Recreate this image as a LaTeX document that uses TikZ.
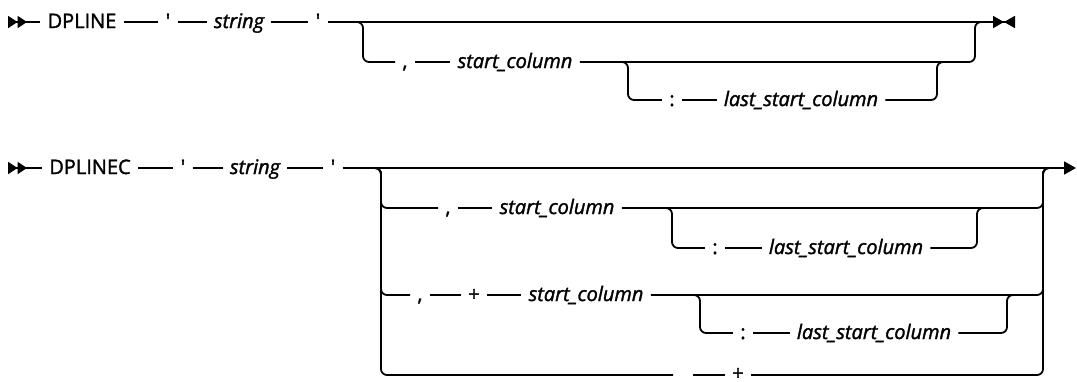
\documentclass[tikz,border=0pt]{standalone}
\usepackage{fontspec}
\setmainfont{Open Sans}[RawFeature={embolden=1.6}]
\usetikzlibrary{arrows.meta}

\begin{document}
\begin{tikzpicture}[
    x=0.5pt, y=-0.5pt,
    rail/.style={
        line width=0.9pt,
        rounded corners=3pt
    },
    kw/.style={
        font=\fontsize{10}{12}\selectfont,
        inner xsep=3.5pt,
        inner ysep=0pt,
        text height=7.5pt,
        text depth=1.5pt
    },
    var/.style={
        kw,
        font=\fontsize{10}{12}\selectfont\itshape
    },
    begin/.style={
        {Triangle[reversed,length=4.75pt,width=6pt,sep=0pt]Triangle[reversed,length=4.75pt,width=6pt]}-
    },
    finish/.style={
        -{Triangle[length=5.5pt,width=6pt,sep=0pt]Triangle[reversed,length=5.5pt,width=6pt]}
    },
    goon/.style={
        -{Triangle[length=6pt,width=6.5pt]}
    }
]
    \useasboundingbox (0,0) rectangle (1077,381);

    % DPLINE: main line
    \coordinate (s1) at (8,22);
    \node[kw] (dpline) at (82,22) {DPLINE};
    \node[kw] (qa1) at (168,22) {\textquotesingle};
    \node[var] (str1) at (239,22) {string};
    \node[kw] (qb1) at (318,22) {\textquotesingle};
    \coordinate (e1) at (1015,22);

    \draw[rail, begin] (s1) -- (dpline);
    \foreach \a/\b in {dpline/qa1, qa1/str1, str1/qb1}
        \draw[rail] (\a) -- (\b);
    \draw[rail, finish] (qb1) -- (e1);

    % DPLINE: optional columns
    \coordinate (b1) at (363,22);
    \coordinate (j1) at (975,22);
    \node[kw] (cm1) at (405,62) {,};
    \node[var] (sc1) at (515,62) {start\_column};
    \coordinate (b2) at (628,62);
    \coordinate (j2) at (937,62);
    \node[kw] (cl1) at (672,100) {:};
    \node[var] (lsc1) at (801,100) {last\_start\_column};

    \draw[rail] ([xshift=-4pt]b1) -- (b1) |- (cm1);
    \draw[rail] (cm1) -- (sc1);
    \draw[rail] (sc1) -| (j1) -- ([xshift=4pt]j1);
    \draw[rail] ([xshift=-4pt]b2) -- (b2) |- (cl1);
    \draw[rail] (cl1) -- (lsc1);
    \draw[rail] (lsc1) -| (j2) -- ([xshift=4pt]j2);

    % DPLINEC: main line
    \coordinate (s2) at (8,168);
    \node[kw] (dplinec) at (90,168) {DPLINEC};
    \node[kw] (qa2) at (183,168) {\textquotesingle};
    \node[var] (str2) at (255,168) {string};
    \node[kw] (qb2) at (333,168) {\textquotesingle};
    \coordinate (e2) at (1076,168);

    \draw[rail, begin] (s2) -- (dplinec);
    \foreach \a/\b in {dplinec/qa2, qa2/str2, str2/qb2}
        \draw[rail] (\a) -- (\b);
    \draw[rail, goon] (qb2) -- (e2);

    % DPLINEC: choices
    \coordinate (b3) at (381,168);
    \coordinate (j3) at (1043,168);

    % , start_column [: last_start_column]
    \node[kw] (cm2) at (448,208) {,};
    \node[var] (sc2) at (557,208) {start\_column};
    \coordinate (b4) at (672,208);
    \coordinate (j4) at (977,208);
    \node[kw] (cl2) at (715,248) {:};
    \node[var] (lsc2) at (846,248) {last\_start\_column};

    \draw[rail] ([xshift=-4pt]b3) -- (b3) |- (cm2);
    \draw[rail] (cm2) -- (sc2);
    \draw[rail] (sc2) -| (j3) -- ([xshift=4pt]j3);
    \draw[rail] ([xshift=-4pt]b4) -- (b4) |- (cl2);
    \draw[rail] (cl2) -- (lsc2);
    \draw[rail] (lsc2) -| (j4) -- ([xshift=4pt]j4);

    % , + start_column [: last_start_column]
    \node[kw] (cm3) at (420,295) {,};
    \node[kw] (pl1) at (474,295) {+};
    \node[var] (sc3) at (586,295) {start\_column};
    \coordinate (b5) at (700,295);
    \coordinate (j5) at (1007,295);
    \node[kw] (cl3) at (743,333) {:};
    \node[var] (lsc3) at (874,333) {last\_start\_column};

    \draw[rail] ([xshift=-4pt]b3) -- (b3) |- (cm3);
    \foreach \a/\b in {cm3/pl1, pl1/sc3}
        \draw[rail] (\a) -- (\b);
    \draw[rail] (sc3) -| (j3) -- ([xshift=4pt]j3);
    \draw[rail] ([xshift=-4pt]b5) -- (b5) |- (cl3);
    \draw[rail] (cl3) -- (lsc3);
    \draw[rail] (lsc3) -| (j5) -- ([xshift=4pt]j5);

    % + alone
    \coordinate (g1) at (673,375);
    \coordinate (g2) at (693,375);
    \node[kw, text height=5pt, text depth=-1pt] (pl2) at (738,375) {+};

    \draw[rail] ([xshift=-4pt]b3) -- (b3) |- (g1);
    \draw[rail] (g2) -- (pl2);
    \draw[rail] (pl2) -| (j3) -- ([xshift=4pt]j3);

\end{tikzpicture}
\end{document}
